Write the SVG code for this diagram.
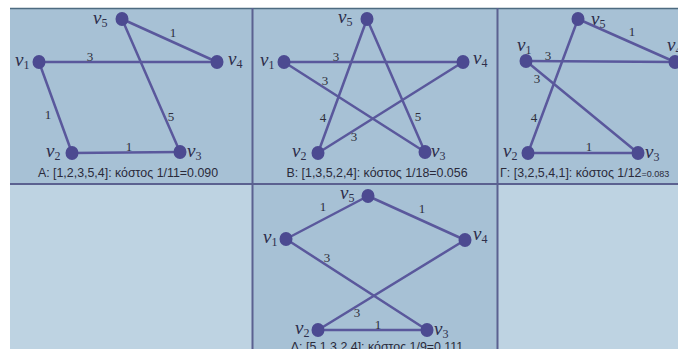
<svg xmlns="http://www.w3.org/2000/svg" width="678" height="349" viewBox="0 0 678 349">
<style>
.bgd{fill:#a7c1d5}
.bgl{fill:#bed3e2}
.bd{stroke:#5b6190;stroke-width:2;fill:none}
.e{stroke:#5a589c;stroke-width:2.5;fill:none;stroke-linecap:round}
.n{fill:#4c4a91}
.vl{font-family:"Liberation Serif",serif;font-style:italic;font-size:19px;fill:#2e2e4a}
.vl tspan{font-size:12px;font-style:normal}
.w{font-family:"Liberation Serif",serif;font-size:13px;fill:#2e2e3a;text-anchor:middle}
.cap{font-family:"Liberation Sans",Arial,sans-serif;font-size:12.4px;fill:#2a2a3a}
</style>
<rect x="0" y="0" width="678" height="349" fill="#ffffff"/>
<rect class="bgd" x="10" y="8" width="243" height="176"/>
<rect class="bgd" x="253" y="8" width="245" height="176"/>
<rect class="bgd" x="498" y="8" width="180" height="176"/>
<rect class="bgl" x="10" y="184" width="243" height="165"/>
<rect class="bgd" x="253" y="184" width="245" height="165"/>
<rect class="bgl" x="498" y="184" width="180" height="165"/>
<line x1="10" y1="8.5" x2="678" y2="8.5" stroke="#4d6b80" stroke-width="1.5"/>
<line class="bd" x1="10" y1="184" x2="678" y2="184"/>
<line class="bd" x1="252.5" y1="8" x2="252.5" y2="349"/>
<line class="bd" x1="497.5" y1="8" x2="497.5" y2="349"/>
<g id="connectors">
<line class="e" x1="122" y1="19" x2="217" y2="62"/>
<line class="e" x1="39" y1="62" x2="217" y2="62"/>
<line class="e" x1="122" y1="19" x2="180" y2="152"/>
<line class="e" x1="39" y1="62" x2="72" y2="153"/>
<line class="e" x1="72" y1="153" x2="180" y2="152"/>
<line class="e" x1="284" y1="62" x2="463" y2="62"/>
<line class="e" x1="284" y1="62" x2="425" y2="152"/>
<line class="e" x1="367" y1="19" x2="318" y2="153"/>
<line class="e" x1="367" y1="19" x2="425" y2="152"/>
<line class="e" x1="318" y1="153" x2="463" y2="62"/>
<line class="e" x1="578" y1="19" x2="675" y2="62"/>
<line class="e" x1="526" y1="61" x2="675" y2="62"/>
<line class="e" x1="526" y1="61" x2="638" y2="153"/>
<line class="e" x1="578" y1="19" x2="528" y2="153"/>
<line class="e" x1="528" y1="153" x2="638" y2="153"/>
<line class="e" x1="286" y1="239" x2="368" y2="196"/>
<line class="e" x1="368" y1="196" x2="465" y2="240"/>
<line class="e" x1="286" y1="239" x2="427" y2="330"/>
<line class="e" x1="318" y1="330" x2="465" y2="240"/>
<line class="e" x1="318" y1="330" x2="427" y2="330"/>
<text class="w" x="173" y="37">1</text>
<text class="w" x="90" y="61">3</text>
<text class="w" x="48" y="119">1</text>
<text class="w" x="171" y="121">5</text>
<text class="w" x="129" y="151">1</text>
<text class="w" x="336" y="61">3</text>
<text class="w" x="325" y="85">3</text>
<text class="w" x="323" y="122">4</text>
<text class="w" x="418" y="121">5</text>
<text class="w" x="354" y="141">3</text>
<text class="w" x="632" y="36">1</text>
<text class="w" x="548" y="60">3</text>
<text class="w" x="537" y="83">3</text>
<text class="w" x="534" y="122">4</text>
<text class="w" x="589" y="151">1</text>
<text class="w" x="323" y="211">1</text>
<text class="w" x="422" y="213">1</text>
<text class="w" x="327" y="262">3</text>
<text class="w" x="357" y="317">3</text>
<text class="w" x="378" y="329">1</text>
</g>
<g id="A">
<ellipse class="n" cx="122" cy="19" rx="6.5" ry="7"/>
<ellipse class="n" cx="39" cy="62" rx="6.5" ry="7"/>
<ellipse class="n" cx="217" cy="62" rx="6.5" ry="7"/>
<ellipse class="n" cx="72" cy="153" rx="6.5" ry="7"/>
<ellipse class="n" cx="180" cy="152" rx="6.5" ry="7"/>
<text class="vl" x="93" y="24">v<tspan dy="3">5</tspan></text>
<text class="vl" x="15" y="66">v<tspan dy="3">1</tspan></text>
<text class="vl" x="228" y="65">v<tspan dy="3">4</tspan></text>
<text class="vl" x="46" y="157">v<tspan dy="3">2</tspan></text>
<text class="vl" x="187" y="157">v<tspan dy="3">3</tspan></text>
<text class="cap" x="128" y="177" text-anchor="middle">A: [1,2,3,5,4]: κόστος 1/11=0.090</text>
</g>
<g id="B">
<ellipse class="n" cx="367" cy="19" rx="6.5" ry="7"/>
<ellipse class="n" cx="284" cy="62" rx="6.5" ry="7"/>
<ellipse class="n" cx="463" cy="62" rx="6.5" ry="7"/>
<ellipse class="n" cx="318" cy="153" rx="6.5" ry="7"/>
<ellipse class="n" cx="425" cy="152" rx="6.5" ry="7"/>
<text class="vl" x="338" y="23">v<tspan dy="3">5</tspan></text>
<text class="vl" x="260" y="66">v<tspan dy="3">1</tspan></text>
<text class="vl" x="473" y="64">v<tspan dy="3">4</tspan></text>
<text class="vl" x="292" y="157">v<tspan dy="3">2</tspan></text>
<text class="vl" x="431" y="157">v<tspan dy="3">3</tspan></text>
<text class="cap" x="377" y="177" text-anchor="middle">B: [1,3,5,2,4]: κόστος 1/18=0.056</text>
</g>
<g id="G">
<ellipse class="n" cx="578" cy="19" rx="6.5" ry="7"/>
<ellipse class="n" cx="526" cy="61" rx="6.5" ry="7"/>
<ellipse class="n" cx="675" cy="62" rx="6.5" ry="7"/>
<ellipse class="n" cx="528" cy="153" rx="6.5" ry="7"/>
<ellipse class="n" cx="638" cy="153" rx="6.5" ry="7"/>
<text class="vl" x="591" y="25">v<tspan dy="3">5</tspan></text>
<text class="vl" x="517" y="51">v<tspan dy="3">1</tspan></text>
<text class="vl" x="667" y="51">v<tspan dy="3">4</tspan></text>
<text class="vl" x="503" y="157">v<tspan dy="3">2</tspan></text>
<text class="vl" x="645" y="158">v<tspan dy="3">3</tspan></text>
<text class="cap" x="500" y="177">Γ: [3,2,5,4,1]: κόστος 1/12<tspan font-size="9px">=0.083</tspan></text>
</g>
<g id="D">
<ellipse class="n" cx="368" cy="196" rx="6.5" ry="7"/>
<ellipse class="n" cx="286" cy="239" rx="6.5" ry="7"/>
<ellipse class="n" cx="465" cy="240" rx="6.5" ry="7"/>
<ellipse class="n" cx="318" cy="330" rx="6.5" ry="7"/>
<ellipse class="n" cx="427" cy="330" rx="6.5" ry="7"/>
<text class="vl" x="340" y="199">v<tspan dy="3">5</tspan></text>
<text class="vl" x="263" y="243">v<tspan dy="3">1</tspan></text>
<text class="vl" x="473" y="240">v<tspan dy="3">4</tspan></text>
<text class="vl" x="295" y="334">v<tspan dy="3">2</tspan></text>
<text class="vl" x="434" y="335">v<tspan dy="3">3</tspan></text>
<text class="cap" x="377" y="351" text-anchor="middle">Δ: [5,1,3,2,4]: κόστος 1/9=0.111</text>
</g>
</svg>
